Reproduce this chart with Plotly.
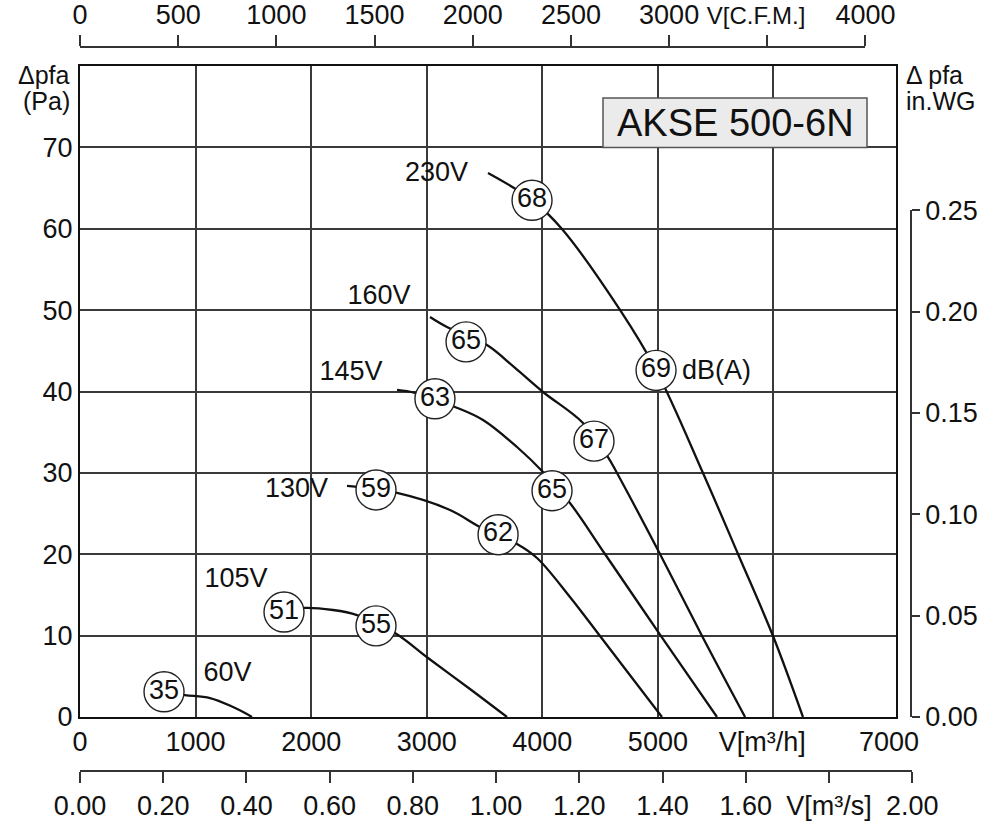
import plotly.graph_objects as go

# ---------------- data ----------------
# main axes: V [m3/h] vs delta pfa [Pa]
x_tickvals = [0, 1000, 2000, 3000, 4000, 5000, 6000, 7000]
x_ticktext = ["0", "1000", "2000", "3000", "4000", "5000",
              "V[m³/h]\u00a0\u00a0\u00a0", "7000"]
x_gridvals = [1000, 2000, 3000, 4000, 5000, 6000]
y_tickvals = [0, 10, 20, 30, 40, 50, 60, 70]
y_ticktext = ["0", "10", "20", "30", "40", "50", "60", "70"]

# secondary scales
cfm_tickvals = [0, 500, 1000, 1500, 2000, 2500, 3000, 3500, 4000]
cfm_ticktext = ["0", "500", "1000", "1500", "2000", "2500", "3000",
                "<span style='font-size:24px'>V[C.F.M.]</span>\u00a0\u00a0\u00a0", "4000"]
m3s_tickvals = [0.0, 0.2, 0.4, 0.6, 0.8, 1.0, 1.2, 1.4, 1.6, 1.8, 2.0]
m3s_ticktext = ["0.00", "0.20", "0.40", "0.60", "0.80", "1.00", "1.20",
                "1.40", "1.60", "V[m³/s]", "2.00"]
wg_tickvals = [0.0, 0.05, 0.10, 0.15, 0.20, 0.25]
wg_ticktext = ["0.00", "0.05", "0.10", "0.15", "0.20", "0.25"]

# fan curves (V m3/h, pfa Pa)
v230_x = [3530, 3911, 4170, 4672, 4984, 5390, 5693, 5996, 6255]
v230_y = [66.85, 63.53, 59.97, 50.02, 42.64, 29.99, 20.03, 9.95, 0.0]
v160_x = [3028, 3175, 3521, 3764, 4006, 4352, 4568, 4646, 5018, 5382, 5754]
v160_y = [49.16, 47.93, 45.71, 42.89, 39.94, 36.13, 31.95, 29.99, 20.03, 9.95, 0.0]
v145_x = [2743, 2898, 3245, 3487, 3781, 4006, 4239, 4542, 5027, 5511]
v145_y = [40.19, 39.82, 38.10, 36.50, 33.18, 30.11, 26.30, 20.03, 9.95, 0.0]
v130_x = [2310, 2743, 3201, 3461, 3781, 3954, 4239, 4499, 5035]
v130_y = [28.39, 27.53, 25.44, 23.35, 21.26, 19.54, 14.75, 9.95, 0.0]
v105_x = [1765, 1929, 2189, 2397, 2725, 3011, 3374, 3694]
v105_y = [12.90, 13.40, 13.15, 12.53, 10.32, 7.25, 3.44, 0.0]
v60_x = [727, 908, 1125, 1324, 1428, 1488]
v60_y = [3.07, 2.70, 2.33, 1.23, 0.49, 0.0]

# sound level circles dB(A)
db_x = [3911, 4984, 3340, 4447, 3071, 4084, 2561, 3617, 1765, 2561, 727]
db_y = [63.5, 42.6, 46.1, 33.9, 39.1, 27.8, 27.9, 22.4, 12.9, 11.2, 3.1]
db_text = ["68", "69", "65", "67", "63", "65", "59", "62", "51", "55", "35"]

# voltage labels
volt_text = ["230V", "160V", "145V", "130V", "105V", "60V"]
volt_x = [3084, 2587, 2345, 1873, 1350, 1276]
volt_y = [66.7, 51.6, 42.3, 27.9, 16.8, 5.2]

title_text = "AKSE 500-6N"

# unit conversions
M3H_PER_CFM = 1.69901
M3H_PER_M3S = 3600.0
PA_PER_INWG = 249.089

# ---------------- geometry (reference pixel frame) ----------------
W, H = 1002, 821


def fx(px):
    return px / W


def fy(py):
    return (H - py) / H


PL, PR, PT, PB = 80, 896, 66, 717
X_MAX, Y_MAX = 7060, 80
sx = (PR - PL) / X_MAX
sy = (PB - PT) / Y_MAX

FONT = "Liberation Sans, Arial, Helvetica, sans-serif"
FS = 27
GRID = "#3a3a3a"
INK = "#111"

fig = go.Figure()

curves = [(v230_x, v230_y), (v160_x, v160_y), (v145_x, v145_y),
          (v130_x, v130_y), (v105_x, v105_y), (v60_x, v60_y)]
for cx, cy in curves:
    fig.add_trace(go.Scatter(x=cx, y=cy, mode="lines", xaxis="x", yaxis="y",
                             line=dict(color=INK, width=2.3, shape="spline", smoothing=1.0),
                             hoverinfo="skip", showlegend=False))

fig.add_trace(go.Scatter(x=db_x, y=db_y, mode="markers+text", text=db_text,
                         xaxis="x", yaxis="y", textposition="middle center",
                         textfont=dict(family=FONT, size=FS, color=INK),
                         marker=dict(size=40, color="white", line=dict(color="#222", width=1.4)),
                         hoverinfo="skip", showlegend=False))

fig.add_trace(go.Scatter(x=volt_x, y=volt_y, mode="text", text=volt_text,
                         xaxis="x", yaxis="y", textposition="middle center",
                         textfont=dict(family=FONT, size=FS, color=INK),
                         hoverinfo="skip", showlegend=False))

# invisible carriers for the secondary scales
hidden = dict(marker=dict(opacity=0), mode="markers", hoverinfo="skip", showlegend=False)
fig.add_trace(go.Scatter(x=[0, 4000], y=[0, 1], xaxis="x2", yaxis="y3", **hidden))
fig.add_trace(go.Scatter(x=[0, 2.0], y=[0, 1], xaxis="x3", yaxis="y4", **hidden))
fig.add_trace(go.Scatter(x=[0, 1], y=[0, 0.25], xaxis="x5", yaxis="y2", **hidden))
fig.add_trace(go.Scatter(x=[1000, 6000], y=[0, 0], xaxis="x4", yaxis="y", **hidden))

tickfont = dict(family=FONT, size=FS, color=INK)
common = dict(automargin=False, tickangle=0, zeroline=False, tickmode="array")
ghost = dict(showline=False, showgrid=False, showticklabels=False, ticks="",
             zeroline=False, automargin=False, range=[0, 1], fixedrange=True)

fig.update_layout(
    template="none",
    width=W, height=H,
    margin=dict(l=0, r=0, t=0, b=0, autoexpand=False),
    paper_bgcolor="white", plot_bgcolor="white",
    font=dict(family=FONT, size=FS, color=INK),
    showlegend=False,
    xaxis=dict(domain=[fx(PL), fx(PR)], range=[0, X_MAX], anchor="y",
               tickvals=x_tickvals, ticktext=x_ticktext,
               ticks="", showgrid=False,
               showline=True, linecolor=INK, linewidth=2, mirror=True,
               tickfont=tickfont, **common),
    xaxis4=dict(overlaying="x", range=[0, X_MAX], anchor="y", side="bottom",
                tickvals=x_gridvals, showticklabels=False, ticks="",
                showgrid=True, gridcolor=GRID, gridwidth=1.6, showline=False,
                **common),
    yaxis=dict(domain=[fy(PB), fy(PT)], range=[0, Y_MAX], anchor="x",
               tickvals=y_tickvals, ticktext=y_ticktext,
               ticks="", showgrid=True, gridcolor=GRID, gridwidth=1.6,
               showline=True, linecolor=INK, linewidth=2, mirror=True,
               tickfont=tickfont, **common),
    # CFM scale on top
    xaxis2=dict(domain=[fx(PL), fx(PL + 4000 * M3H_PER_CFM * sx)], range=[0, 4000],
                anchor="y3", side="top",
                tickvals=cfm_tickvals, ticktext=cfm_ticktext,
                ticks="outside", ticklen=11, tickwidth=1.5, tickcolor="#333",
                showline=True, linecolor="#333", linewidth=1.5,
                showgrid=False, tickfont=tickfont, **common),
    yaxis3=dict(domain=[fy(58), fy(48)], anchor="x2", **ghost),
    # m3/s scale at bottom
    xaxis3=dict(domain=[fx(PL), fx(PL + 2.0 * M3H_PER_M3S * sx)], range=[0, 2.0],
                anchor="y4", side="bottom",
                tickvals=m3s_tickvals, ticktext=m3s_ticktext,
                ticks="outside", ticklen=11, tickwidth=1.5, tickcolor="#333",
                showline=True, linecolor="#333", linewidth=1.5,
                showgrid=False, tickfont=tickfont, **common),
    yaxis4=dict(domain=[fy(770), fy(760)], anchor="x3", **ghost),
    # in.WG scale on the right
    yaxis2=dict(domain=[fy(PB), fy(PB - 0.25 * PA_PER_INWG * sy)], range=[0, 0.25],
                anchor="x5", side="right",
                tickvals=wg_tickvals, ticktext=wg_ticktext,
                ticks="outside", ticklen=8, tickwidth=1.5, tickcolor="#333",
                showline=True, linecolor="#333", linewidth=1.5,
                showgrid=False, tickfont=tickfont, **common),
    xaxis5=dict(domain=[fx(900), fx(910)], anchor="y2", **ghost),
)

# model box
fig.add_shape(type="rect", xref="x", yref="y",
              x0=(603 - PL) / sx, x1=(867 - PL) / sx, y0=70, y1=(PB - 98) / sy,
              fillcolor="#ebebeb", line=dict(color="#555", width=1.5), layer="above")
fig.add_annotation(x=((603 + 867) / 2 - PL) / sx, y=(PB - 122.5) / sy, xref="x", yref="y",
                   text=title_text, showarrow=False,
                   font=dict(family=FONT, size=38, color=INK))

# dB(A) label
fig.add_annotation(x=(680 - PL) / sx, y=db_y[1], xref="x", yref="y", text="dB(A)",
                   showarrow=False, xanchor="left", yanchor="middle",
                   font=dict(family=FONT, size=FS, color=INK))

# axis titles
fig.add_annotation(x=fx(72), y=fy(75), xref="paper", yref="paper", text="Δpfa",
                   showarrow=False, xanchor="right", yanchor="middle",
                   font=dict(family=FONT, size=25, color=INK))
fig.add_annotation(x=fx(72), y=fy(101), xref="paper", yref="paper", text="(Pa)",
                   showarrow=False, xanchor="right", yanchor="middle",
                   font=dict(family=FONT, size=25, color=INK))
fig.add_annotation(x=fx(904), y=fy(75), xref="paper", yref="paper", text="Δ pfa",
                   showarrow=False, xanchor="left", yanchor="middle",
                   font=dict(family=FONT, size=25, color=INK))
fig.add_annotation(x=fx(904), y=fy(101), xref="paper", yref="paper", text="in.WG",
                   showarrow=False, xanchor="left", yanchor="middle",
                   font=dict(family=FONT, size=25, color=INK))

# remove the default 8px page margin so the figure sits at the window origin
fig.write_html("out.html", config={"displayModeBar": False},
               post_script="document.body.style.margin='0px';")
